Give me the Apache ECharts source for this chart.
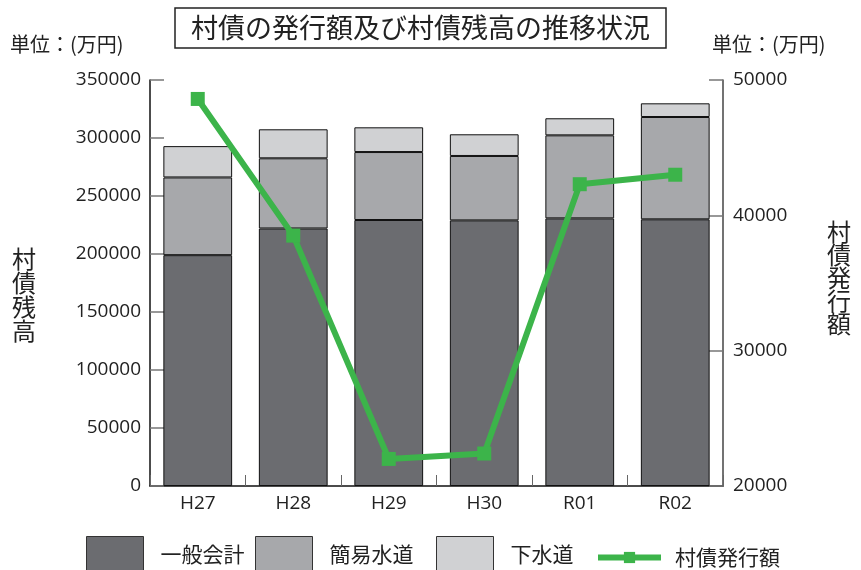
<!DOCTYPE html>
<html><head><meta charset="utf-8">
<script src="https://cdn.jsdelivr.net/npm/echarts@6/dist/echarts.min.js"></script>
<style>html,body{margin:0;padding:0;background:#fff}#c{width:861px;height:570px}</style>
</head><body><div id="c"></div>
<script>
const categories = ['H27','H28','H29','H30','R01','R02'];
const generalAccount = [199000, 222000, 229300, 229000, 230700, 229900];
const simpleWater = [67000, 60500, 58600, 55500, 71600, 88200];
const sewer = [27000, 25000, 21300, 18700, 14700, 11800];
const issuance = [48600, 38500, 22000, 22400, 42300, 43000];
const seriesNames = ['一般会計','簡易水道','下水道','村債発行額'];
const leftTicks = {min:0, max:350000, interval:50000};
const rightTicks = {min:20000, max:50000, interval:10000};

const JP = '"Noto Sans CJK JP", sans-serif';
const NUM = '"Open Sans", "Noto Sans CJK JP", sans-serif';
const GREEN = '#3cb44a';
const chart = echarts.init(document.getElementById('c'), null, {renderer:'canvas'});
const barStyle = (c) => ({color:c, borderColor:'#111', borderWidth:1});
const legendText = {fontFamily:JP, fontSize:21, color:'#222', padding:[0,0,0,12]};
const mkLegend = (name, left) => ({
  left:left, top:531, padding:5, itemWidth:57, itemHeight:36, icon:'rect',
  textStyle:legendText, data:[name],
  itemStyle:{borderColor:'#333', borderWidth:1}
});
chart.setOption({
  animation:false,
  backgroundColor:'#fff',
  title:{
    text:'村債の発行額及び村債残高の推移状況', left:175, top:8,
    padding:[6,16,6,16], borderColor:'#222', borderWidth:1.5,
    textStyle:{fontFamily:JP, fontSize:27, lineHeight:28, fontWeight:'normal', color:'#222'}
  },
  graphic:[
    {type:'text', left:10, top:34, style:{text:'単位：(万円)', font:'20px '+JP, fill:'#222'}},
    {type:'text', left:712, top:34, style:{text:'単位：(万円)', font:'20px '+JP, fill:'#222'}},
    {type:'text', left:12, top:247, style:{text:'村\n債\n残\n高', font:'24px '+JP, lineHeight:24, fill:'#222'}},
    {type:'text', left:827, top:220, style:{text:'村\n債\n発\n行\n額', font:'24px '+JP, lineHeight:23, fill:'#222'}}
  ],
  legend:[
    mkLegend(seriesNames[0], 81),
    mkLegend(seriesNames[1], 250),
    mkLegend(seriesNames[2], 431),
    {left:590, top:542, padding:5, itemWidth:63, itemHeight:14, data:[seriesNames[3]],
     textStyle:Object.assign({}, legendText, {padding:[0,0,0,9]}),
     itemStyle:{color:GREEN}, lineStyle:{color:GREEN, width:6}}
  ],
  grid:{left:150, right:138, top:80, bottom:84},
  xAxis:{
    type:'category', data:categories,
    axisLine:{lineStyle:{color:'#111', width:1.5}},
    axisTick:{show:true, inside:true, length:11, lineStyle:{color:'#666'}},
    axisLabel:{fontFamily:NUM, fontSize:19, color:'#222', margin:8}
  },
  yAxis:[
    {type:'value', min:leftTicks.min, max:leftTicks.max, interval:leftTicks.interval,
     axisLine:{show:true, lineStyle:{color:'#111', width:1.5}},
     axisTick:{show:true, inside:true, length:14, lineStyle:{color:'#777', width:1.5}},
     splitLine:{show:false},
     axisLabel:{fontFamily:NUM, fontSize:19, color:'#222', margin:9, formatter:(v)=>String(v)}},
    {type:'value', min:rightTicks.min, max:rightTicks.max, interval:rightTicks.interval, position:'right',
     axisLine:{show:true, lineStyle:{color:'#444', width:1.5}},
     axisTick:{show:true, inside:true, length:14, lineStyle:{color:'#777', width:1.5}},
     splitLine:{show:false},
     axisLabel:{fontFamily:NUM, fontSize:19, color:'#222', margin:10, formatter:(v)=>String(v)}}
  ],
  series:[
    {name:seriesNames[0], type:'bar', stack:'a', data:generalAccount, barWidth:'72%', itemStyle:barStyle('#6b6c70')},
    {name:seriesNames[1], type:'bar', stack:'a', data:simpleWater, itemStyle:barStyle('#a7a8ab')},
    {name:seriesNames[2], type:'bar', stack:'a', data:sewer, itemStyle:barStyle('#d0d1d3')},
    {name:seriesNames[3], type:'line', yAxisIndex:1, data:issuance, z:10,
     symbol:'rect', symbolSize:14, lineStyle:{color:GREEN, width:6},
     itemStyle:{color:GREEN}}
  ]
});
</script></body></html>
